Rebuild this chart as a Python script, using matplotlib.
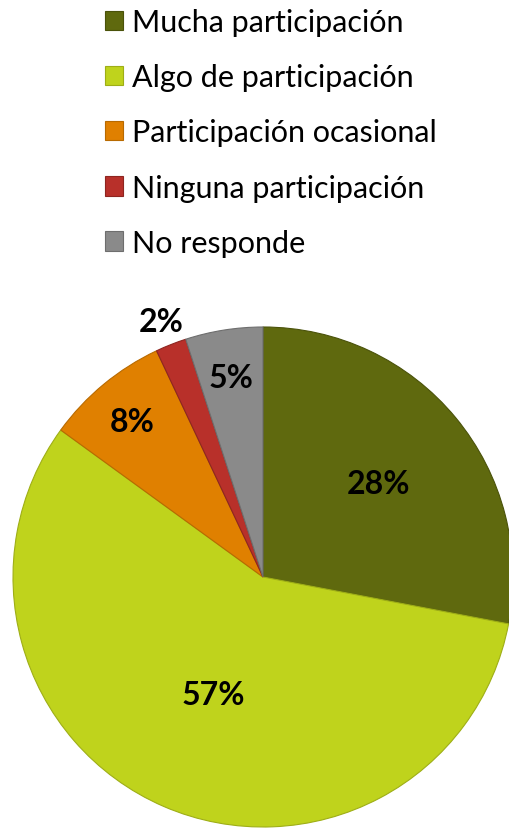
import numpy as np
import matplotlib.pyplot as plt

categorias = ["Mucha participación", "Algo de participación",
              "Participación ocasional", "Ninguna participación", "No responde"]
porcentajes = [28, 57, 8, 2, 5]
colores = ["#5f690e", "#bfd31c", "#e08000", "#b8302a", "#8a8a8a"]
bordes = ["#4a520a", "#9eae16", "#b86a00", "#8e2520", "#6e6e6e"]
dist_etiqueta = [0.6, 0.5, 0.82, 1.11, 0.82]

plt.rcParams['font.family'] = ['Lato', 'DejaVu Sans']

fig = plt.figure(figsize=(5.1, 8.29), dpi=100)
ax = fig.add_axes([13/510, 1/829, 500/510, 500/829])

wedges, _ = ax.pie(porcentajes, colors=colores, startangle=90, counterclock=False,
                   radius=1.0, wedgeprops=dict(linewidth=0.8))
for w, b in zip(wedges, bordes):
    w.set_edgecolor(b)

for w, p, d in zip(wedges, porcentajes, dist_etiqueta):
    ang = np.deg2rad((w.theta1 + w.theta2) / 2)
    ax.text(d * np.cos(ang), d * np.sin(ang), f"{p}%", ha='center',
            va='center_baseline', fontsize=23, fontweight='bold', color='black')

ax.set_xlim(-1, 1)
ax.set_ylim(-1, 1)
ax.set_aspect('equal')
ax.axis('off')

leg = fig.legend(wedges, categorias, loc='upper left',
                 bbox_to_anchor=(105/510, 1 - 9/829), frameon=False,
                 fontsize=22, handlelength=0.6, handleheight=0.6,
                 handletextpad=0.27, labelspacing=0.89, borderpad=0,
                 borderaxespad=0)
for h in leg.legend_handles:
    h.set_linewidth(0.8)

fig.savefig("out.png", dpi=100)
